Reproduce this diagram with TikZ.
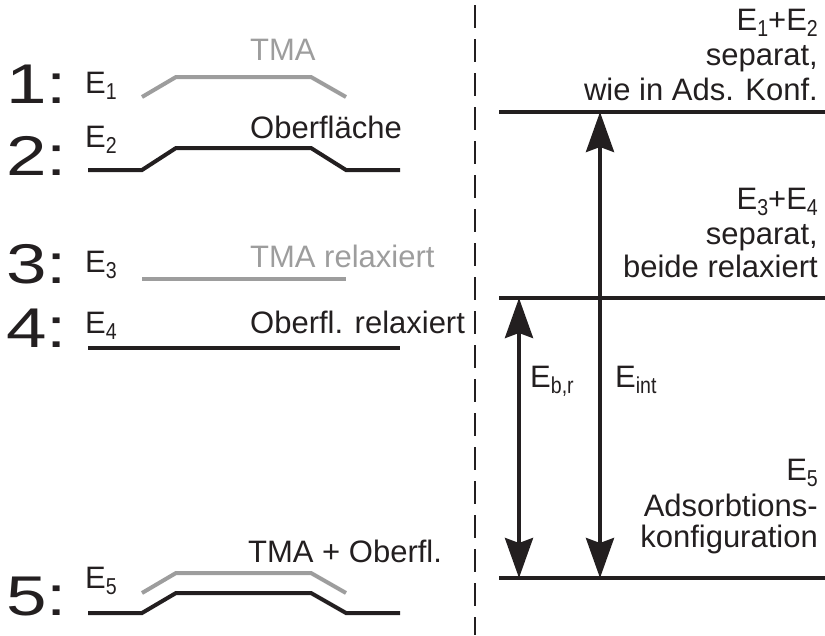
\documentclass[tikz,border=0pt]{standalone}
\usepackage{fontspec}
\setmainfont{Liberation Sans}
\newfontfamily\subfont{Liberation Sans}[FakeStretch=0.85]
\newfontfamily\numfont{Liberation Sans}[FakeStretch=1.3]
\usetikzlibrary{arrows.meta}
\definecolor{ink}{HTML}{231F20}
\definecolor{tmagray}{HTML}{9D9D9D}
% index below the base line
\newcommand{\idx}[1]{\raisebox{-6pt}{\subfont\fontsize{23}{23}\selectfont #1}}

\begin{document}
\begin{tikzpicture}[x=1pt,y=-1pt,
    txt/.style={font=\fontsize{31}{31}\selectfont, inner sep=0pt, text=ink},
    lft/.style={txt, anchor=base west},
    rgt/.style={txt, anchor=base east},
    num/.style={font=\numfont\fontsize{56}{56}\selectfont, inner sep=0pt, anchor=base west, text=ink},
    surf/.style={line width=4pt, ink, line join=miter},
    tma/.style={line width=4pt, tmagray, line join=miter},
    level/.style={line width=4pt, ink},
    gap/.style={line width=4pt, ink, {Stealth[length=40pt,width=28pt,inset=5pt]}-{Stealth[length=40pt,width=28pt,inset=5pt]}}]
    \useasboundingbox (0,0) rectangle (825,635);

    % numbering
    \node[num] (n1) at (6,103) {1:};
    \node[num] (n2) at (6,175) {2:};
    \node[num] (n3) at (6,283) {3:};
    \node[num] (n4) at (6,347) {4:};
    \node[num] (n5) at (6,615) {5:};

    \node[lft] (e1) at (85,93) {E\idx{1}};
    \node[lft] (e2) at (85,147) {E\idx{2}};
    \node[lft] (e3) at (85,272) {E\idx{3}};
    \node[lft] (e4) at (85,333) {E\idx{4}};
    \node[lft] (e5) at (85,588) {E\idx{5}};

    % single fragments
    \draw[tma] (142,97) -- (176,77) -- (311,77) -- (346,97);
    \node[lft, text=tmagray] (t1) at (250,60) {TMA};
    \draw[surf] (88,170) -- (142,170) -- (176,148) -- (311,148) -- (346,170) -- (400,170);
    \node[lft] (s2) at (250,138) {Oberfläche};

    \draw[tma] (142,279) -- (346,279);
    \node[lft, text=tmagray] (t3) at (250,267) {TMA relaxiert};
    \draw[surf] (88,348) -- (400,348);
    \node[lft] (s4) at (250,333) {Oberfl. relaxiert};

    % adsorbed
    \draw[tma] (142,593) -- (176,573) -- (311,573) -- (346,593);
    \draw[surf] (88,613) -- (142,613) -- (176,593) -- (311,593) -- (346,613) -- (400,613);
    \node[lft] (ts5) at (248,562) {TMA + Oberfl.};

    \draw[ink, line width=2pt, dash pattern=on 23pt off 11pt] (475,5) -- (475,635);

    % energy levels
    \coordinate (lvA) at (499,112);
    \coordinate (lvB) at (499,298);
    \coordinate (lvC) at (499,578);
    \draw[level] (lvA) -- (825,112);
    \draw[level] (lvB) -- (825,298);
    \draw[level] (lvC) -- (825,578);

    \node[rgt] (sumA) at (818,30) {E\idx{1}+E\idx{2}};
    \node[rgt] (sepA) at (818,65) {separat,};
    \node[rgt] (wieA) at (818,100) {wie in Ads. Konf.};
    \node[rgt] (sumB) at (818,209) {E\idx{3}+E\idx{4}};
    \node[rgt] (sepB) at (818,244) {separat,};
    \node[rgt] (relB) at (818,277) {beide relaxiert};
    \node[rgt] (sumC) at (818,480) {E\idx{5}};
    \node[rgt] (adsC) at (818,516) {Adsorbtions-};
    \node[rgt] (konC) at (818,547) {konfiguration};

    \coordinate (brTop) at (519,298);
    \coordinate (brBot) at (519,578);
    \coordinate (inTop) at (600,112);
    \coordinate (inBot) at (600,578);
    \draw[gap] (brBot) -- (brTop);
    \draw[gap] (inBot) -- (inTop);
    \node[lft] (ebr) at (530,387) {E\idx{b,r}};
    \node[lft] (eint) at (615,387) {E\idx{int}};
\end{tikzpicture}
\end{document}
